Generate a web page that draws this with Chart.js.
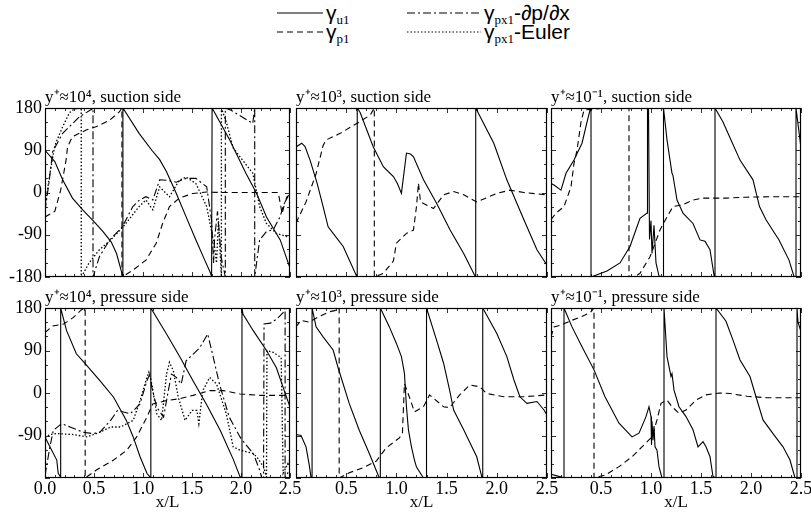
<!DOCTYPE html>
<html>
<head>
<meta charset="utf-8">
<script src="https://cdn.jsdelivr.net/npm/chart.js@4.4.0/dist/chart.umd.min.js"></script>
<style>
  body { margin: 0; background: #fff; }
  #fig { position: relative; width: 811px; height: 514px; overflow: hidden; font-family: "Liberation Serif", "Times New Roman", serif; color: #000; }
  #fig canvas { position: absolute; }
  .lg { position: absolute; font-family: "Liberation Sans", Arial, sans-serif; font-size: 21px; line-height: 21px; white-space: nowrap; }
  .lg sub { font-family: "Liberation Serif", serif; font-size: 13px; vertical-align: -4px; line-height: 0; }
  .sw { position: absolute; }
</style>
</head>
<body>
<div id="fig">
  <svg class="sw" style="left:277px;top:11px" width="46" height="4"><line x1="0" y1="2" x2="46" y2="2" stroke="#000" stroke-width="1.2"/></svg>
  <div class="lg" style="left:326px;top:2px">γ<sub>u1</sub></div>
  <svg class="sw" style="left:277px;top:30px" width="46" height="4"><line x1="0" y1="2" x2="46" y2="2" stroke="#000" stroke-width="1.2" stroke-dasharray="6,4"/></svg>
  <div class="lg" style="left:326px;top:21px">γ<sub>p1</sub></div>
  <svg class="sw" style="left:407px;top:11px" width="74" height="4"><line x1="0" y1="2" x2="74" y2="2" stroke="#000" stroke-width="1.2" stroke-dasharray="8,3,2,3"/></svg>
  <div class="lg" style="left:484px;top:2px">γ<sub>px1</sub>-∂p/∂x</div>
  <svg class="sw" style="left:407px;top:30px" width="74" height="4"><line x1="0" y1="2" x2="74" y2="2" stroke="#000" stroke-width="1.2" stroke-dasharray="1.5,2"/></svg>
  <div class="lg" style="left:484px;top:21px">γ<sub>px1</sub>-Euler</div>
</div>
<script>
// x/L positions and phase angles in degrees
const xTickLabels = ['0.0', '0.5', '1.0', '1.5', '2.0', '2.5'];
const yTickLabels = ['-180', '-90', '0', '90', '180'];

// y+ ~ 10^4, suction side
const tlU = [[0,90],[0.1,66],[0.18,27],[0.28,-12],[0.385,-37],[0.5,-62],[0.59,-83],[0.675,-105],[0.73,-130],[0.79,-176],[0.795,-180],[0.795,180],[0.96,126],[1.09,90],[1.17,70],[1.24,44],[1.34,-2],[1.44,-52],[1.54,-101],[1.63,-144],[1.69,-172],[1.70,-180],[1.705,180],[1.885,112],[2.05,41],[2.16,-2],[2.26,-52],[2.40,-101],[2.5,-161]];
const tlP = [[0,-52],[0.1,-40],[0.16,5],[0.215,69],[0.23,97],[0.28,119],[0.42,133],[0.52,140],[0.66,154],[0.76,172],[0.785,180],[0.785,-180],[0.9,-165],[1.03,-144],[1.135,-108],[1.2,-66],[1.27,-30],[1.37,-12],[1.51,-2],[1.65,1],[1.8,0],[2.0,0],[2.2,0],[2.38,0],[2.42,-45],[2.45,-20],[2.5,0]];
const tlD = [[0,-40],[0.04,20],[0.078,87],[0.18,126],[0.35,161],[0.48,178],[0.49,180],[0.49,-180],[0.555,-137],[0.66,-101],[0.79,-73],[0.896,-30],[0.964,-16],[1.03,-9],[1.10,-16],[1.17,27],[1.24,26],[1.34,22],[1.44,30],[1.54,30],[1.65,12],[1.70,-60],[1.72,-150],[1.73,-100],[1.76,-40],[1.80,-140],[1.84,-180],[1.84,180],[1.9,175],[2.12,147],[2.14,180],[2.14,-180],[2.19,-101],[2.26,-83],[2.33,-79],[2.40,-51],[2.43,-30],[2.47,-9],[2.5,-5]];
const tlE = [[0,-30],[0.05,40],[0.1,100],[0.18,140],[0.25,170],[0.3,178],[0.37,180],[0.37,-180],[0.45,-150],[0.555,-122],[0.66,-103],[0.79,-75],[0.96,-30],[1.03,-16],[1.10,-37],[1.17,12],[1.27,-9],[1.37,26],[1.44,33],[1.54,19],[1.65,-30],[1.73,-115],[1.75,-150],[1.77,-60],[1.80,-180],[1.80,180],[1.85,150],[1.92,95],[2.12,41],[2.19,-30],[2.26,-66],[2.36,-87],[2.47,-94],[2.5,-95]];

// y+ ~ 10^3, suction side
const tmU = [[0,97],[0.057,105],[0.09,98],[0.14,69],[0.21,20],[0.27,-30],[0.32,-73],[0.37,-87],[0.47,-115],[0.605,-179],[0.61,-180],[0.61,180],[0.64,170],[0.77,97],[0.87,55],[0.97,34],[1.01,19],[1.05,-2],[1.10,84],[1.14,82],[1.17,76],[1.27,27],[1.40,-23],[1.535,-80],[1.67,-130],[1.785,-179],[1.79,-180],[1.79,180],[1.97,105],[2.10,27],[2.27,-58],[2.40,-122],[2.5,-155]];
const tmP = [[0,-65],[0.1,-20],[0.2,40],[0.27,100],[0.30,112],[0.44,126],[0.605,147],[0.74,165],[0.78,180],[0.78,-180],[0.87,-172],[0.97,-146],[1.00,-108],[1.10,-87],[1.17,-80],[1.20,-30],[1.22,20],[1.24,-20],[1.37,-34],[1.47,-5],[1.57,2],[1.67,-5],[1.80,-20],[2.0,-2],[2.13,5],[2.27,0],[2.5,-5]];

// y+ ~ 10^-1, suction side
const trU = [[0,19],[0.03,16],[0.10,5],[0.15,41],[0.23,69],[0.31,105],[0.36,150],[0.395,180],[0.40,180],[0.40,-180],[0.56,-167],[0.69,-150],[0.79,-115],[0.86,-73],[0.89,-55],[0.96,-44],[0.965,180],[0.975,180],[0.985,-100],[1.0,-60],[1.01,-130],[1.03,-70],[1.05,-150],[1.08,-178],[1.12,-180],[1.125,180],[1.16,112],[1.21,41],[1.22,36],[1.26,-16],[1.32,-44],[1.42,-66],[1.49,-101],[1.54,-104],[1.59,-122],[1.63,-176],[1.64,-180],[1.64,180],[1.72,150],[1.80,112],[1.89,69],[2.02,27],[2.085,-30],[2.15,-58],[2.28,-101],[2.38,-144],[2.43,-179],[2.45,-180],[2.45,180],[2.5,95]];
const trP = [[0,-58],[0.05,-44],[0.13,-30],[0.2,12],[0.23,62],[0.26,90],[0.3,150],[0.33,176],[0.5,179],[0.78,180],[0.78,-180],[0.85,-178],[0.89,-172],[0.99,-137],[1.09,-80],[1.16,-52],[1.22,-30],[1.32,-26],[1.42,-16],[1.52,-12],[1.62,-12],[1.75,-12],[1.95,-10],[2.22,-9],[2.5,-9]];

// y+ ~ 10^4, pressure side
const blU = [[0,-93],[0.05,-114],[0.12,-142],[0.135,-170],[0.155,-177],[0.16,-180],[0.16,180],[0.22,132],[0.32,83],[0.41,62],[0.56,26],[0.70,-9],[0.83,-58],[0.90,-93],[0.97,-135],[1.04,-170],[1.08,-180],[1.08,180],[1.24,125],[1.38,75],[1.51,26],[1.65,-25],[1.79,-80],[1.92,-140],[1.99,-177],[2.01,-180],[2.01,180],[2.02,167],[2.125,132],[2.26,90],[2.36,54],[2.43,12],[2.5,-30]];
const blP = [[0,128],[0.08,142],[0.19,146],[0.29,160],[0.37,176],[0.41,180],[0.41,-180],[0.525,-163],[0.70,-142],[0.835,-121],[0.935,-93],[1.04,-51],[1.10,-23],[1.24,-16],[1.38,-12],[1.51,-5],[1.68,5],[1.82,5],[1.99,-2],[2.19,-5],[2.40,-5],[2.5,-5]];
const blD = [[0,-175],[0.05,-114],[0.085,-79],[0.17,-65],[0.255,-72],[0.39,-83],[0.49,-86],[0.56,-83],[0.67,-58],[0.74,-37],[0.87,-44],[0.97,-23],[1.04,26],[1.07,40],[1.09,12],[1.14,-30],[1.21,-51],[1.24,-16],[1.29,40],[1.34,33],[1.39,19],[1.44,68],[1.51,82],[1.58,96],[1.66,125],[1.71,82],[1.78,19],[1.88,-51],[1.99,-93],[2.04,-107],[2.125,-128],[2.19,-163],[2.21,-178],[2.23,-180],[2.235,146],[2.30,148],[2.36,156],[2.43,170],[2.45,180],[2.45,-180],[2.5,-160]];
const blE = [[0,-95],[0.05,-88],[0.12,-86],[0.29,-88],[0.43,-93],[0.56,-83],[0.67,-72],[0.77,-72],[0.90,-58],[0.97,-16],[1.04,33],[1.06,44],[1.09,19],[1.14,-44],[1.19,-58],[1.24,40],[1.27,65],[1.31,47],[1.36,-9],[1.43,-58],[1.50,-37],[1.55,-37],[1.57,-65],[1.61,5],[1.68,33],[1.75,19],[1.85,-44],[1.92,-114],[1.99,-121],[2.12,-128],[2.16,-135],[2.23,-156],[2.26,-178],[2.265,90],[2.33,86],[2.41,75],[2.43,-170],[2.5,-140]];

// y+ ~ 10^3, pressure side
const bmU = [[0,-88],[0.05,-90],[0.10,-114],[0.13,-150],[0.15,-179],[0.16,-180],[0.16,180],[0.20,140],[0.27,119],[0.37,91],[0.42,53],[0.53,-22],[0.63,-79],[0.73,-128],[0.83,-180],[0.84,-180],[0.84,180],[0.93,140],[1.00,105],[1.05,77],[1.08,42],[1.10,-29],[1.12,-78],[1.15,-114],[1.18,-142],[1.20,-157],[1.27,-180],[1.30,-180],[1.30,180],[1.40,112],[1.47,63],[1.53,6],[1.57,-36],[1.67,-78],[1.80,-135],[1.85,-177],[1.86,-180],[1.86,180],[2.00,126],[2.10,77],[2.17,28],[2.23,-8],[2.30,-22],[2.40,-18],[2.47,-36],[2.5,-47]];
const bmP = [[0,140],[0.05,154],[0.13,150],[0.23,162],[0.33,172],[0.42,176],[0.43,180],[0.43,-180],[0.53,-169],[0.67,-158],[0.80,-144],[0.90,-116],[1.03,-95],[1.06,-85],[1.08,20],[1.13,-9],[1.18,-40],[1.27,-29],[1.33,-4],[1.47,-29],[1.53,-31],[1.63,-4],[1.73,17],[1.83,13],[1.90,-1],[2.07,-8],[2.27,-8],[2.5,-4]];

// y+ ~ 10^-1, pressure side
const brU = [[0,-172],[0.05,-175],[0.12,-179],[0.13,-180],[0.13,180],[0.21,140],[0.31,98],[0.43,49],[0.54,-8],[0.68,-64],[0.81,-93],[0.88,-85],[0.95,-50],[0.98,-29],[1.0,-50],[1.005,-110],[1.01,-60],[1.02,-100],[1.03,-70],[1.04,-114],[1.06,-121],[1.08,-156],[1.11,-180],[1.13,-180],[1.13,180],[1.16,77],[1.20,35],[1.21,41],[1.23,6],[1.28,-29],[1.35,-50],[1.42,-78],[1.47,-114],[1.52,-103],[1.55,-114],[1.59,-135],[1.62,-177],[1.65,-180],[1.65,180],[1.75,152],[1.82,112],[1.89,70],[1.99,35],[2.05,-8],[2.12,-57],[2.22,-86],[2.32,-114],[2.39,-142],[2.44,-180],[2.46,-180],[2.46,180],[2.47,150],[2.5,130]];
const brP = [[0,119],[0.03,140],[0.10,144],[0.21,154],[0.34,165],[0.40,172],[0.43,180],[0.43,-180],[0.54,-174],[0.68,-156],[0.81,-135],[0.91,-114],[1.01,-93],[1.06,-57],[1.10,-22],[1.16,-15],[1.21,-29],[1.28,-43],[1.35,-36],[1.45,-15],[1.55,-4],[1.685,0],[1.79,-1],[1.96,-7],[2.16,-10],[2.36,-10],[2.5,-10]];

const FONT = "'Liberation Serif', 'Times New Roman', serif";
const DASH = { u: [], p: [6, 4], d: [8, 3, 2, 3], e: [1.5, 2] };

// panel frame geometry (px)
const colL = [45, 296, 551], colW = [245, 251, 250];
const rowT = [108, 308], rowH = [169, 170];
const PADL = 50, PADT = 28, PADR = 20, PADB = 36;

const panels = [
  { title: 'y⁺≈10⁴, suction side',  r: 0, c: 0, s: [[tlU,'u'],[tlP,'p'],[tlD,'d'],[tlE,'e']] },
  { title: 'y⁺≈10³, suction side',  r: 0, c: 1, s: [[tmU,'u'],[tmP,'p']] },
  { title: 'y⁺≈10⁻¹, suction side', r: 0, c: 2, s: [[trU,'u'],[trP,'p']] },
  { title: 'y⁺≈10⁴, pressure side',  r: 1, c: 0, s: [[blU,'u'],[blP,'p'],[blD,'d'],[blE,'e']] },
  { title: 'y⁺≈10³, pressure side',  r: 1, c: 1, s: [[bmU,'u'],[bmP,'p']] },
  { title: 'y⁺≈10⁻¹, pressure side', r: 1, c: 2, s: [[brU,'u'],[brP,'p']] }
];

// box around plot area plus small inward ticks on all four sides
const framePlugin = {
  id: 'frame',
  afterDraw(chart) {
    const { ctx, chartArea: a, scales: { x, y } } = chart;
    ctx.save();
    ctx.strokeStyle = '#000';
    ctx.lineWidth = 1.2;
    ctx.strokeRect(a.left + 0.5, a.top + 0.5, a.width - 1, a.height - 1);
    ctx.lineWidth = 0.8;
    ctx.beginPath();
    for (let i = 0; i <= 25; i++) {
      const px = Math.round(x.getPixelForValue(i / 10)) + 0.5;
      const len = i % 5 === 0 ? 5 : 3;
      ctx.moveTo(px, a.bottom); ctx.lineTo(px, a.bottom - len);
      ctx.moveTo(px, a.top); ctx.lineTo(px, a.top + len);
    }
    for (let d = -180; d <= 180; d += 30) {
      const py = Math.round(y.getPixelForValue(d)) + 0.5;
      const len = d % 90 === 0 ? 5 : 3;
      ctx.moveTo(a.left, py); ctx.lineTo(a.left + len, py);
      ctx.moveTo(a.right, py); ctx.lineTo(a.right - len, py);
    }
    ctx.stroke();
    ctx.restore();
  }
};

const fig = document.getElementById('fig');
panels.forEach(p => {
  const w = colW[p.c] + PADL + PADR, h = rowH[p.r] + PADT + PADB;
  const canvas = document.createElement('canvas');
  canvas.width = w; canvas.height = h;
  canvas.style.left = (colL[p.c] - PADL) + 'px';
  canvas.style.top = (rowT[p.r] - PADT) + 'px';
  fig.appendChild(canvas);

  new Chart(canvas, {
    type: 'line',
    data: {
      datasets: p.s.map(([arr, k]) => ({
        data: arr.map(v => ({ x: v[0], y: v[1] })),
        borderColor: '#000',
        borderWidth: k === 'e' ? 1.3 : 1.1,
        borderDash: DASH[k],
        pointRadius: 0,
        tension: 0,
        fill: false
      }))
    },
    options: {
      responsive: false,
      animation: false,
      devicePixelRatio: 1,
      layout: { padding: { right: PADR } },
      plugins: {
        legend: { display: false },
        tooltip: { enabled: false },
        title: {
          display: true, text: p.title, align: 'start', fullSize: false,
          color: '#000', font: { family: FONT, size: 17, weight: 'normal', lineHeight: 1.2 },
          padding: { top: PADT - 20.4, bottom: 0 }
        }
      },
      scales: {
        x: {
          type: 'linear', min: 0, max: 2.5,
          grid: { display: false, drawTicks: false }, border: { display: false },
          ticks: {
            display: p.r === 1, stepSize: 0.5, autoSkip: false, maxRotation: 0, padding: 0,
            color: '#000', font: { family: FONT, size: 18 },
            callback: (v, i) => (p.c > 0 && i === 0) ? '' : xTickLabels[i]
          },
          title: {
            display: p.r === 1, text: 'x/L', color: '#000',
            font: { family: FONT, size: 17 }, padding: { top: 0, bottom: 1 }
          },
          afterFit: s => { s.height = PADB; }
        },
        y: {
          type: 'linear', min: -180, max: 180,
          grid: { display: false, drawTicks: false }, border: { display: false },
          ticks: {
            display: p.c === 0, stepSize: 90, autoSkip: false, padding: 3,
            color: '#000', font: { family: FONT, size: 18 },
            callback: (v, i) => (p.r === 1 && i === 0) ? '' : yTickLabels[i]
          },
          afterFit: s => { s.width = PADL; }
        }
      }
    },
    plugins: [framePlugin]
  });
});
</script>
</body>
</html>
